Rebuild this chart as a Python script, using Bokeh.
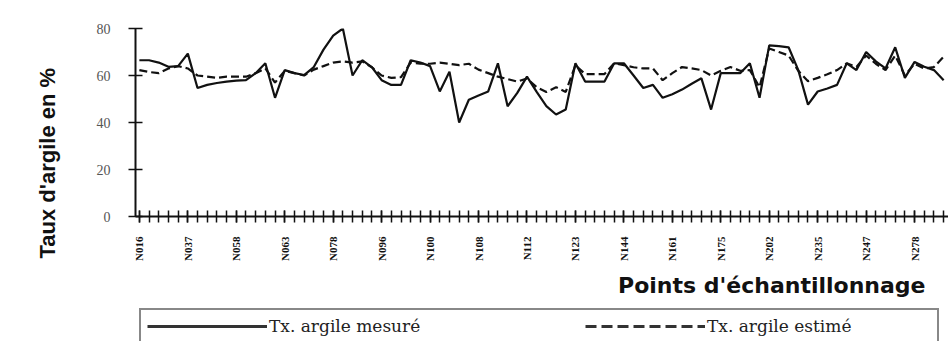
import math
from bokeh.plotting import figure
from bokeh.layouts import column
from bokeh.models import FixedTicker, Title, Legend, LegendItem, Range1d
from bokeh.embed import file_html
from bokeh.resources import INLINE

# sample point labels (one label every 5 points)
tick_labels = ["N016", "N037", "N058", "N063", "N078", "N096", "N100", "N108",
               "N112", "N123", "N144", "N161", "N175", "N202", "N235", "N247", "N278"]
label_step = 5

measured = [66.5, 66.5, 65.5, 63.7, 64, 69.3, 54.7, 56, 56.8, 57.4,
            57.8, 58, 61, 65.2, 50.5, 62.3, 61, 60.2, 63.6, 71,
            77, 80, 60, 66.5, 63.5, 58, 56, 56, 66.5, 65.5,
            64, 53.2, 61.6, 40, 49.7, 51.5, 53.2, 65.2, 46.9, 52.6,
            59.5, 53, 47, 43.4, 45.5, 65.2, 57.4, 57.4, 57.4, 65.2,
            65.2, 60, 54.7, 56, 50.5, 52, 54, 56.5, 58.8, 45.5,
            61, 61, 61, 65.2, 50.5, 72.8, 72.5, 72, 62.3, 47.6,
            53.2, 54.5, 56, 65.2, 62.3, 70, 66, 63, 72, 59,
            65.8, 63.7, 62.3, 58]

estimated = [62.3, 61.5, 61, 63, 64, 63, 60, 59.5, 59, 59.5,
             59.5, 59.5, 61, 63, 57, 62, 61, 60, 62.5, 64,
             65.5, 66, 65.5, 66, 63.5, 60, 59, 59.3, 65.5, 65,
             65, 65.5, 65, 64.4, 65, 62.5, 61, 59.5, 58.5, 57.4,
             58.7, 55, 53, 55, 53, 64.4, 60.6, 60.6, 60.6, 65.2,
             64.4, 63.5, 63, 63, 58, 61, 63.6, 63, 62.3, 60,
             62, 63.6, 62, 62.3, 55, 71.5, 70, 68.5, 62, 57.6,
             59, 60.5, 62.3, 65.2, 63.6, 68.5, 65, 62.3, 68.5, 60,
             65, 63, 63.6, 68]

y_ticks = [0, 20, 40, 60, 80]
series_names = ["Tx. argile mesuré", "Tx. argile estimé"]

xs = list(range(len(measured)))
INK = "#111111"

p = figure(width=948, height=305, output_backend="svg", toolbar_location=None,
           x_range=Range1d(-0.4, 83.5), y_range=Range1d(0, 80),
           min_border_left=135, min_border_right=0, min_border_top=28,
           min_border_bottom=87)
p.outline_line_color = None
p.background_fill_color = "white"
p.border_fill_color = "white"
p.grid.visible = False

r1 = p.line(xs, measured, line_color=INK, line_width=2.2)
r2 = p.line(xs, estimated, line_color=INK, line_width=2.2, line_dash="8 4")

# x axis
major = [i * label_step for i in range(len(tick_labels))]
p.xaxis.ticker = FixedTicker(ticks=major, minor_ticks=xs)
p.xaxis.major_label_overrides = {m: lab for m, lab in zip(major, tick_labels)}
p.xaxis.major_label_orientation = math.pi / 2
p.xaxis.major_label_text_font = "Liberation Serif"
p.xaxis.major_label_text_font_style = "bold"
p.xaxis.major_label_text_font_size = "11px"
p.xaxis.major_label_text_color = INK
p.xaxis.major_label_standoff = 14
p.xaxis.major_tick_in = 6
p.xaxis.major_tick_out = 6
p.xaxis.minor_tick_in = 6
p.xaxis.minor_tick_out = 6
p.xaxis.major_tick_line_width = 1.5
p.xaxis.minor_tick_line_width = 1.5
p.xaxis.major_tick_line_color = INK
p.xaxis.minor_tick_line_color = INK
p.xaxis.axis_line_width = 2
p.xaxis.axis_line_color = INK

# y axis
p.yaxis.ticker = FixedTicker(ticks=y_ticks)
p.yaxis.minor_tick_line_color = None
p.yaxis.major_tick_in = 7
p.yaxis.major_tick_out = 7
p.yaxis.major_tick_line_width = 1.5
p.yaxis.major_tick_line_color = INK
p.yaxis.axis_line_width = 2
p.yaxis.axis_line_color = INK
p.yaxis.major_label_text_font = "Liberation Serif"
p.yaxis.major_label_text_font_size = "14px"
p.yaxis.major_label_text_color = "#555555"
p.yaxis.major_label_standoff = 18

yt = Title(text="Taux d'argile en %", align="left", vertical_align="top",
           text_font="Liberation Sans", text_font_style="bold",
           text_font_size="22px", text_color=INK,
           offset=-42, standoff=64)
p.add_layout(yt, "left")

# x title, right aligned
xt = Title(text="Points d'échantillonnage", align="right",
           text_font="DejaVu Sans", text_font_style="bold",
           text_font_size="22px", text_color=INK,
           offset=23, standoff=15)
p.add_layout(xt, "below")

# legend strip under the chart (its frame is aligned with the chart frame)
p2 = figure(width=948, height=36, output_backend="svg", toolbar_location=None,
            x_range=Range1d(0, 1), y_range=Range1d(0, 1),
            x_axis_location=None, y_axis_location=None,
            min_border=0, min_border_left=0, min_border_right=0,
            min_border_top=0, min_border_bottom=0)
p2.grid.visible = False
p2.outline_line_color = None
p2.background_fill_color = "white"
p2.border_fill_color = "white"
# legend keys (series drawn outside this strip's visible range)
g1 = p2.line(xs, measured, line_color="#333333", line_width=3)
g2 = p2.line(xs, estimated, line_color="#333333", line_width=3, line_dash="11 5")

legend = Legend(items=[LegendItem(label=series_names[0], renderers=[g1]),
                       LegendItem(label=series_names[1], renderers=[g2])],
                orientation="horizontal", location=(4, -3),
                margin=0, padding=6, spacing=92,
                glyph_width=120, glyph_height=20, label_width=224, label_height=20,
                label_standoff=2,
                label_text_font="DejaVu Serif", label_text_font_size="17px",
                label_text_color="#222222",
                border_line_color=INK, border_line_width=2,
                background_fill_color="white", background_fill_alpha=1.0)
p2.add_layout(legend)

layout = column(p, p2, spacing=0)
open("out.html", "w").write(file_html(layout, INLINE))
